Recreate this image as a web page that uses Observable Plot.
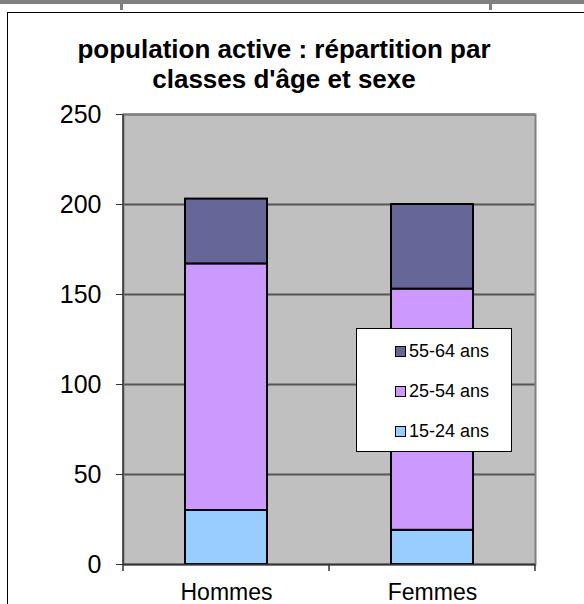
<!DOCTYPE html>
<html>
<head>
<meta charset="utf-8">
<script src="https://cdn.jsdelivr.net/npm/d3@7"></script>
<script src="https://cdn.jsdelivr.net/npm/@observablehq/plot@0.6"></script>
<style>
  html, body { margin: 0; padding: 0; background: #fff; }
  #wrap { position: relative; width: 584px; height: 604px; overflow: hidden; background: #fff;
          font-family: "Liberation Sans", Arial, sans-serif; }
  #strip { position: absolute; left: 0; top: 0; width: 584px; height: 4px; background: #808080; }
  .notch { position: absolute; top: 0; width: 3px; height: 10px; background: #808080; }
  #border { position: absolute; left: 7px; top: 12px; width: 640px; height: 640px; border: 1px solid #000; box-sizing: border-box; }
  #chart { position: absolute; left: 0; top: 0; }
  #title { position: absolute; left: 0; top: 34px; width: 568px; text-align: center;
           font-weight: bold; font-size: 26px; line-height: 30px; color: #000; }
  #legend { position: absolute; left: 356px; top: 328px; width: 156px; height: 124px;
            background: #fff; border: 1px solid #000; box-sizing: border-box; }
  .lrow { position: absolute; left: 38px; height: 20px; display: flex; align-items: center;
          font-size: 18px; color: #000; }
  .lsw { width: 9px; height: 9px; border: 1.5px solid #000; margin-right: 3px; box-sizing: content-box; }
</style>
</head>
<body>
<div id="wrap">
  <div id="strip"></div>
  <div class="notch" style="left:120px"></div>
  <div class="notch" style="left:489px"></div>
  <div id="border"></div>
  <div id="chart"></div>
  <div id="title">population active : répartition par<br>classes d'âge et sexe</div>
  <div id="legend"></div>
</div>
<script>
// ---- data ----
const categories = ["Hommes", "Femmes"];
const ageClasses = ["15-24 ans", "25-54 ans", "55-64 ans"];
const hommes = [30, 137, 36];
const femmes = [19, 134, 47];
const colors = ["#99ccff", "#cc99ff", "#666699"];
const yTicks = [0, 50, 100, 150, 200, 250];

const series = { "Hommes": hommes, "Femmes": femmes };
const data = [];
for (const c of categories) {
  ageClasses.forEach((a, i) => data.push({ sexe: c, classe: a, valeur: series[c][i] }));
}

const font = '"Liberation Sans", Arial, sans-serif';

const plot = Plot.plot({
  width: 584,
  height: 604,
  marginLeft: 123,
  marginRight: 49,
  marginTop: 114,
  marginBottom: 40,
  style: { background: "transparent", fontFamily: font, color: "#000", overflow: "visible" },
  x: { domain: categories, paddingInner: 0.602, paddingOuter: 0.301, label: null },
  y: { domain: [0, 250], label: null },
  color: { domain: ageClasses, range: colors },
  marks: [
    Plot.frame({ fill: "#c0c0c0", stroke: null }),
    Plot.gridY(yTicks, { stroke: "#555", strokeOpacity: 1, strokeWidth: 2 }),
    Plot.frame({ stroke: "#808080", strokeWidth: 2 }),
    Plot.barY(data, { x: "sexe", y: "valeur", fill: "classe", stroke: "#000", strokeWidth: 2, insetLeft: 0, insetRight: 0 }),
    Plot.ruleY([0], { stroke: "#333", strokeWidth: 1.5 }),
    Plot.axisY(yTicks, { tickSize: 7, tickPadding: 15, fontSize: 25, stroke: "#333", fill: "#000" }),
    Plot.axisX({ tickSize: 0, tickPadding: 19, fontSize: 23, fill: "#000" })
  ]
});
document.getElementById("chart").appendChild(plot);

// left axis line and boundary ticks, derived from the plot's own scales
const xs = plot.scale("x");
const ys = plot.scale("y");
const svg = d3.select(plot);
const y0 = ys.apply(0), yTop = ys.apply(250);
const gap = (xs.step - xs.bandwidth) / 2;
const bounds = categories.map(c => xs.apply(c) - gap);
bounds.push(xs.apply(categories[categories.length - 1]) + xs.bandwidth + gap);
svg.append("line").attr("x1", bounds[0]).attr("x2", bounds[0]).attr("y1", yTop).attr("y2", y0 + 7)
  .attr("stroke", "#333").attr("stroke-width", 1.5);
bounds.slice(1).forEach(b => {
  svg.append("line").attr("x1", b).attr("x2", b).attr("y1", y0).attr("y2", y0 + 7)
    .attr("stroke", "#333").attr("stroke-width", 1.5);
});

// legend (top-down: 55-64, 25-54, 15-24)
const legend = document.getElementById("legend");
const rowTops = [12, 52, 92];
ageClasses.slice().reverse().forEach((a, i) => {
  const row = document.createElement("div");
  row.className = "lrow";
  row.style.top = rowTops[i] + "px";
  const sw = document.createElement("span");
  sw.className = "lsw";
  sw.style.background = colors[ageClasses.indexOf(a)];
  const t = document.createElement("span");
  t.textContent = a;
  row.appendChild(sw);
  row.appendChild(t);
  legend.appendChild(row);
});
</script>
</body>
</html>
